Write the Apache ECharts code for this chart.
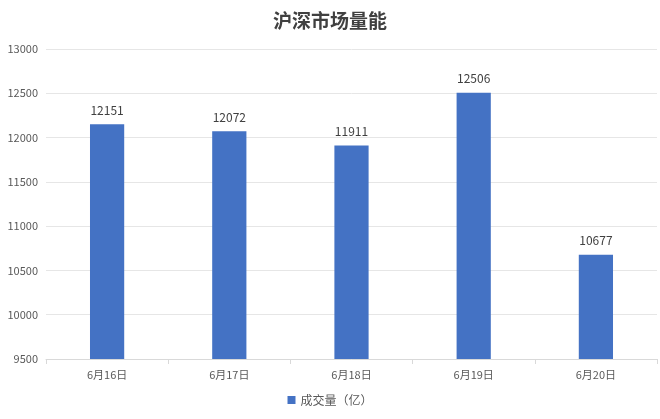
<!DOCTYPE html>
<html>
<head>
<meta charset="utf-8">
<script src="https://cdn.jsdelivr.net/npm/echarts@6/dist/echarts.min.js"></script>
<style>
html, body { margin: 0; padding: 0; background: #fff; }
#box { width: 660px; height: 419px; }
</style>
</head>
<body>
<div id="box"></div>
<script>
var days = ['6月16日', '6月17日', '6月18日', '6月19日', '6月20日'];
var volume = [12151, 12072, 11911, 12506, 10677];

var mychart = echarts.init(document.getElementById('box'));
var options = {
    animation: false,
    color: ['#4472c4'],
    textStyle: { fontFamily: 'Noto Sans CJK SC' },
    title: {
        left: 'center',
        top: 6,
        text: '沪深市场量能',
        textStyle: {
            fontSize: 19,
            fontWeight: 'bold',
            color: '#404040',
            fontFamily: 'Noto Sans CJK SC'
        }
    },
    grid: {
        left: 46,
        right: 3,
        top: 49,
        bottom: 60
    },
    legend: {
        bottom: 8,
        left: 'center',
        itemWidth: 8,
        itemHeight: 8,
        icon: 'rect',
        textStyle: { fontSize: 12, color: '#595959' }
    },
    xAxis: {
        type: 'category',
        data: days,
        axisLine: { lineStyle: { color: '#d9d9d9' } },
        axisTick: { show: true, lineStyle: { color: '#d9d9d9' } },
        axisLabel: { color: '#595959', fontSize: 11, margin: 10 }
    },
    yAxis: {
        type: 'value',
        min: 9500,
        max: 13000,
        interval: 500,
        axisLine: { show: false },
        axisTick: { show: false },
        axisLabel: {
            color: '#595959',
            fontSize: 11,
            margin: 8,
            formatter: function (v) { return String(v); }
        },
        splitLine: { lineStyle: { color: '#e6e6e6' } }
    },
    series: [{
        name: '成交量（亿）',
        type: 'bar',
        barWidth: '28%',
        label: {
            show: true,
            position: 'top',
            distance: 8,
            color: '#404040',
            fontSize: 12
        },
        data: volume
    }]
};
mychart.setOption(options);
</script>
</body>
</html>
